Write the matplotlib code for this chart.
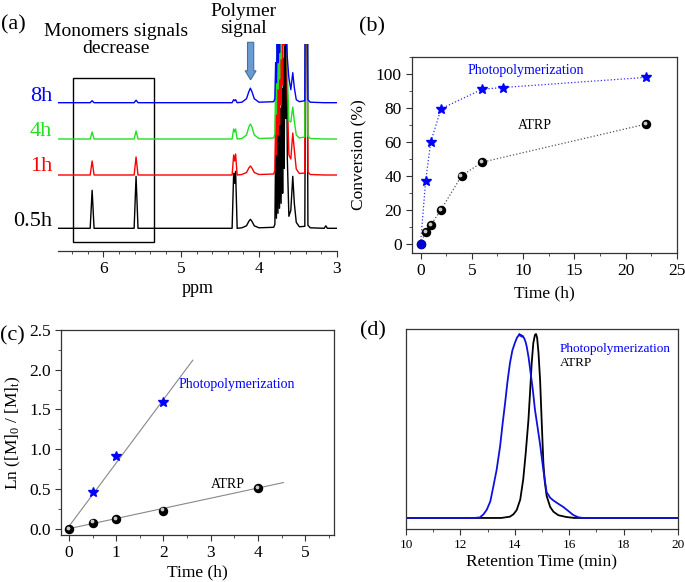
import numpy as np
import matplotlib.pyplot as plt
from matplotlib.patches import Rectangle, FancyArrow
from matplotlib.ticker import MultipleLocator
from matplotlib.transforms import offset_copy

plt.rcParams['font.family'] = ['Liberation Serif', 'DejaVu Serif']
plt.rcParams['mathtext.default'] = 'regular'

W, H = 685, 582

# ---- (a) 1H NMR spectra, intensity in arbitrary units above each baseline
ppm = [6.60, 6.17, 6.145, 6.12, 5.605, 5.58, 5.555, 4.345, 4.325, 4.312, 4.30, 4.28, 4.22, 4.16, 4.13, 4.11, 4.09, 4.06, 4.00,
       3.81, 3.795, 3.785, 3.775, 3.765, 3.755, 3.745, 3.735, 3.725, 3.715, 3.705, 3.695, 3.685, 3.675, 3.665, 3.655,
       3.645, 3.635, 3.615, 3.59, 3.565, 3.545, 3.52, 3.48, 3.41, 3.395, 3.385, 3.37, 3.34, 3.16, 3.14, 3.12, 3.00]
nmr_05h = [0, 0, 38, 0, 0, 52, 0, 0, 55, 45, 57, 0, 0.5, 2.5, 7, 9, 7, 2.5, 0.5,
           1, 4, 80, 10, 95, 15, 110, 20, 120, 25, 140, 35, 170, 60, 220, 110,
           180, 70, 12, 18, 52, 25, 6, 1.5, 2, 300, 300, 3, 0.5, 0, 2.5, 0, 0]
nmr_1h = [0, 0, 14, 0, 0, 18, 0, 0, 20, 14, 21, 0, 0.5, 2.5, 7, 9, 7, 2.5, 0.5,
          1, 5, 60, 20, 90, 40, 120, 50, 160, 70, 200, 90, 250, 130, 260, 150,
          200, 80, 20, 16, 42, 25, 6, 1.5, 2, 300, 300, 3, 0.5, 0, 0, 0, 0]
nmr_4h = [0, 0, 7, 0, 0, 8, 0, 0, 10, 7, 10, 0, 0.5, 4, 12, 15, 12, 4, 0.5,
          1, 5, 60, 25, 100, 50, 140, 60, 180, 80, 220, 100, 250, 130, 260, 150,
          200, 70, 18, 17, 32, 18, 4, 1, 2, 300, 300, 3, 0.5, 0, 0, 0, 0]
nmr_8h = [0, 0, 2, 0, 0, 2.5, 0, 0, 3, 2, 3, 0, 0.5, 4, 11, 14.5, 11, 4, 0.5,
          1, 4, 40, 20, 70, 40, 100, 50, 150, 70, 200, 100, 250, 120, 220, 90,
          60, 45, 25, 13, 30, 15, 3, 1, 2, 300, 300, 3, 0.5, 0, 0, 0, 0]
nmr_labels = ['0.5h', '1h', '4h', '8h']
nmr_offsets = [0, 53.3, 89.3, 125.6]
nmr_colors = ['black', '#ff0000', '#22e022', '#0000ff']

# ---- (b) conversion vs time
conv_t_photo = [0, 0.5, 1, 2, 6, 8, 22]
conv_photo = [0, 37, 60, 79.5, 91, 92, 98]
conv_t_atrp = [0, 0.5, 1, 2, 4, 6, 22]
conv_atrp = [0, 7, 11, 20, 40, 48, 70.5]

# ---- (c) kinetics
kin_t_photo = [0.5, 1, 2]
kin_photo = [0.466, 0.92, 1.59]
kin_t_atrp = [0, 0.5, 1, 2, 4]
kin_atrp = [0, 0.076, 0.118, 0.227, 0.516]
fit_t_photo = [0, 2.62]
fit_photo = [0.03, 2.12]
fit_t_atrp = [0, 4.54]
fit_atrp = [0, 0.58]

# ---- (d) GPC traces (normalised)
gpc_t_photo = [10, 12.5, 12.72, 12.85, 12.97, 13.1, 13.21, 13.33, 13.46, 13.55,
               13.64, 13.73, 13.82, 13.91, 14.0, 14.08, 14.13, 14.17, 14.2, 14.23,
               14.26, 14.29, 14.31, 14.35, 14.4, 14.44, 14.51, 14.58, 14.66, 14.74,
               14.83, 14.93, 15.05, 15.17, 15.3, 15.42, 15.6, 15.78, 15.95, 16.15,
               16.33, 16.5, 18, 20]
gpc_photo = [0, 0, 0.003, 0.02, 0.045, 0.09, 0.17, 0.26, 0.39, 0.51,
             0.62, 0.74, 0.84, 0.91, 0.95, 0.98, 0.99, 1.0, 0.99, 0.995,
             0.985, 0.99, 0.985, 0.975, 0.955, 0.93, 0.87, 0.79, 0.70, 0.59,
             0.50, 0.40, 0.26, 0.14, 0.11, 0.095, 0.077, 0.06, 0.04, 0.016,
             0.004, 0, 0, 0]
gpc_t_atrp = [10, 13.5, 13.82, 13.95, 14.07, 14.2, 14.31, 14.4, 14.5, 14.56,
              14.62, 14.68, 14.74, 14.78, 14.82, 14.87, 14.93, 14.99, 15.05, 15.1,
              15.17, 15.3, 15.42, 15.6, 15.9, 16.2, 20]
gpc_atrp = [0, 0, 0.007, 0.02, 0.043, 0.1, 0.21, 0.35, 0.53, 0.68,
            0.84, 0.95, 0.995, 1.0, 0.98, 0.9, 0.75, 0.52, 0.30, 0.2,
            0.12, 0.06, 0.034, 0.015, 0.005, 0, 0]


def axes_px(fig, left, top, right, bottom):
    return fig.add_axes([left / W, 1 - bottom / H, (right - left) / W, (bottom - top) / H])


def ftext(fig, x, y, s, **kw):
    fig.text(x / W, 1 - y / H, s, **kw)


def style(ax, size=12.5):
    for sp in ax.spines.values():
        sp.set_color('#333333')
        sp.set_linewidth(0.9)
    ax.tick_params(which='both', direction='out', labelsize=size, color='#333333')
    ax.tick_params(which='major', length=4)
    ax.tick_params(which='minor', length=2)


def balls(ax, x, y, ms=5.8):
    ax.plot(x, y, 'o', color='black', ms=ms, zorder=4)
    tr = offset_copy(ax.transData, fig=ax.figure, x=-0.8, y=0.8, units='points')
    ax.plot(x, y, 'o', color='#c8c8c8', ms=ms * 0.3, transform=tr, zorder=5)


fig = plt.figure(figsize=(6.85, 5.82), dpi=100)

# ---------------- (a)
ax1 = axes_px(fig, 58.3, 43.5, 336.7, 250.7)
for spec, off, c in zip([nmr_05h, nmr_1h, nmr_4h, nmr_8h], nmr_offsets, nmr_colors):
    ax1.plot(ppm, np.array(spec) + off, color=c, lw=1)
ax1.set_xlim(6.58, 3.0)
ax1.set_ylim(-22.4, 184.8)
for s in ['left', 'right', 'top']:
    ax1.spines[s].set_visible(False)
ax1.set_yticks([])
ax1.xaxis.set_major_locator(MultipleLocator(1))
ax1.xaxis.set_minor_locator(MultipleLocator(0.2))
style(ax1)
ax1.set_xlabel('ppm', fontsize=13, labelpad=2)
ax1.add_patch(Rectangle((5.35, -13.4), 1.04, 163.7, fill=False, ec='black', lw=1))
ax1.add_patch(FancyArrow(4.107, 186, 0, -37.5, width=0.08, head_width=0.14, head_length=9,
                         length_includes_head=True, fc='#6b9bd2', ec='#41719c', lw=0.8,
                         clip_on=False))
for lab, y, c in zip(nmr_labels, [221.7, 166.7, 131.7, 96.7], nmr_colors):
    ftext(fig, 52, y, lab, color=c, fontsize=16, ha='right', va='center')
ftext(fig, 13, 25, '(a)', fontsize=16, ha='center', va='center')
ftext(fig, 116, 40, 'Monomers signals\ndecrease', fontsize=14, ha='center', va='center',
      linespacing=1.05)
ftext(fig, 243, 20, 'Polymer\nsignal', fontsize=14, ha='center', va='center', linespacing=1.05)

# ---------------- (b)
ax2 = axes_px(fig, 412, 57, 677, 253)
ax2.plot(conv_t_photo, conv_photo, ':', color='#3030ff', lw=0.9)
ax2.plot(conv_t_atrp, conv_atrp, ':', color='#555555', lw=0.9)
balls(ax2, conv_t_atrp, conv_atrp)
ax2.plot(conv_t_photo[1:], conv_photo[1:], '*', color='#0000ff', ms=7.5, zorder=6)
ax2.plot(conv_t_photo[:1], conv_photo[:1], 'o', color='#0000cc', ms=5.8, zorder=6)
ax2.set_xlim(-0.83, 25)
ax2.set_ylim(-5.5, 110)
ax2.xaxis.set_major_locator(MultipleLocator(5))
ax2.xaxis.set_minor_locator(MultipleLocator(2.5))
ax2.yaxis.set_major_locator(MultipleLocator(20))
ax2.yaxis.set_minor_locator(MultipleLocator(10))
style(ax2)
ax2.set_xlabel('Time (h)', fontsize=12.5, labelpad=4)
ax2.set_ylabel('Conversion (%)', fontsize=12.5, labelpad=6)
ax2.text(10.25, 101.8, 'Photopolymerization', color='#0000ff', fontsize=10, ha='center', va='center')
ax2.text(11.1, 69.8, 'ATRP', color='black', fontsize=10, ha='center', va='center')
ftext(fig, 372, 27, '(b)', fontsize=16, ha='center', va='center')

# ---------------- (c)
ax3 = axes_px(fig, 61, 330, 334, 535)
ax3.plot(fit_t_photo, fit_photo, '-', color='#888888', lw=0.8)
ax3.plot(fit_t_atrp, fit_atrp, '-', color='#888888', lw=0.8)
balls(ax3, kin_t_atrp, kin_atrp)
ax3.plot(kin_t_photo, kin_photo, '*', color='#0000ff', ms=7.5, zorder=6)
ax3.set_xlim(-0.17, 5.61)
ax3.set_ylim(-0.08, 2.5)
ax3.xaxis.set_major_locator(MultipleLocator(1))
ax3.xaxis.set_minor_locator(MultipleLocator(0.5))
ax3.yaxis.set_major_locator(MultipleLocator(0.5))
ax3.yaxis.set_minor_locator(MultipleLocator(0.25))
ax3.yaxis.set_major_formatter(plt.FormatStrFormatter('%.1f'))
style(ax3)
ax3.set_xlabel('Time (h)', fontsize=12.5, labelpad=2)
ax3.set_ylabel('Ln ([M]$_0$ / [M]$_t$)', fontsize=12.5, labelpad=4)
ax3.text(3.55, 1.82, 'Photopolymerization', color='#0000ff', fontsize=10, ha='center', va='center')
ax3.text(3.37, 0.56, 'ATRP', color='black', fontsize=10, ha='center', va='center')
ftext(fig, 12, 336, '(c)', fontsize=16, ha='center', va='center')

# ---------------- (d)
ax4 = axes_px(fig, 406, 329, 678, 529)
ax4.plot(gpc_t_atrp, gpc_atrp, color='black', lw=1.3)
ax4.plot(gpc_t_photo, gpc_photo, color='#1010dd', lw=1.3)
ax4.set_xlim(10, 20)
ax4.set_ylim(-0.06, 1.027)
ax4.set_yticks([])
ax4.xaxis.set_major_locator(MultipleLocator(2))
ax4.xaxis.set_minor_locator(MultipleLocator(1))
style(ax4, size=9.5)
ax4.set_xlabel('Retention Time (min)', fontsize=12.5, labelpad=2)
ax4.text(15.66, 0.918, 'Photopolymerization', color='#0000ff', fontsize=9.5, ha='left', va='center')
ax4.text(15.66, 0.844, 'ATRP', color='black', fontsize=9.5, ha='left', va='center')
ftext(fig, 373, 331, '(d)', fontsize=16, ha='center', va='center')

fig.savefig('out.png', dpi=100)
